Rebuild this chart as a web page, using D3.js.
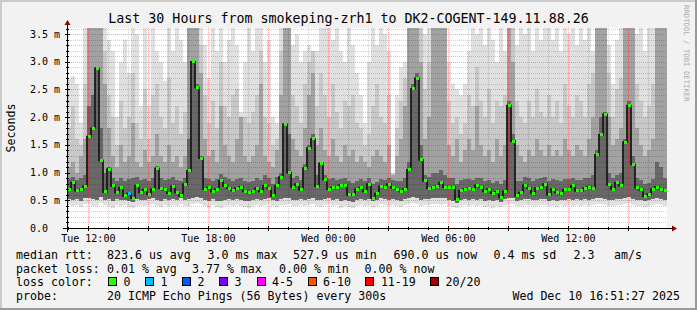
<!DOCTYPE html>
<html>
<head>
<meta charset="utf-8">
<script src="https://cdn.jsdelivr.net/npm/d3@7"></script>
<style>
  html, body { margin: 0; padding: 0; background: #f2f2f2; }
  svg { display: block; }
  text { font-family: "DejaVu Sans Mono", monospace; fill: #000; }
</style>
</head>
<body>
<svg id="chart" width="697" height="310"></svg>
<script>
// one column per 12 minutes, 150 columns over 30 hours (values in ms)
var startTime = new Date(2025, 11, 9, 10, 56),
    endTime = new Date(2025, 11, 10, 16, 56),
    stepMinutes = 12;

var median = [
  0.70,0.82,0.67,0.69,0.75,1.65,1.80,2.88,1.22,0.65,1.06,0.76,0.64,0.73,0.58,0.62,0.54,0.76,0.64,0.69,0.61,0.70,1.07,0.72,0.69,0.63,0.75,0.64,0.58,0.79,
  1.03,3.00,2.54,1.26,0.70,0.73,0.66,0.70,0.85,0.76,0.72,0.68,0.72,0.74,0.66,0.64,0.65,0.72,0.66,0.76,0.72,0.58,0.76,0.92,1.87,1.00,0.74,0.79,0.69,1.08,
  1.44,1.61,0.75,1.16,0.88,0.70,0.73,0.74,0.77,0.77,0.60,0.61,0.70,0.73,0.66,0.79,0.54,0.62,0.75,0.74,0.79,0.73,0.70,0.66,0.70,1.05,2.51,2.70,1.23,0.85,
  0.72,0.73,0.75,0.82,0.74,0.74,0.74,0.52,0.67,0.70,0.71,0.70,0.77,0.74,0.66,0.70,0.63,0.65,0.55,0.66,2.21,1.57,0.58,0.64,0.77,0.72,0.63,0.72,0.73,0.79,
  0.60,0.70,0.64,0.62,0.69,0.69,0.76,0.67,0.67,0.72,0.74,0.72,1.32,1.68,2.05,0.78,0.70,0.82,0.76,1.55,2.21,1.15,0.73,0.69,0.57,0.61,0.70,0.74,0.70,0.67
];

// smoke: lowest ping, lower quartile, upper quartile, upper band, 90th pct, highest ping
var smokeLo = [
  0.42,0.40,0.41,0.38,0.43,0.44,0.40,0.39,0.45,0.41,0.40,0.37,0.42,0.39,0.41,0.38,0.36,0.40,0.42,0.39,0.41,0.43,0.40,0.38,0.42,0.40,0.41,0.39,0.44,0.40,
  0.40,0.43,0.45,0.44,0.39,0.37,0.41,0.38,0.36,0.40,0.42,0.39,0.41,0.40,0.38,0.37,0.40,0.42,0.39,0.41,0.43,0.40,0.38,0.41,0.42,0.44,0.40,0.39,0.41,0.40,
  0.41,0.43,0.40,0.38,0.42,0.44,0.39,0.41,0.37,0.40,0.38,0.36,0.40,0.42,0.39,0.41,0.38,0.40,0.43,0.41,0.39,0.42,0.40,0.38,0.41,0.43,0.45,0.44,0.40,0.42,
  0.42,0.44,0.43,0.42,0.44,0.40,0.38,0.36,0.39,0.41,0.40,0.42,0.39,0.41,0.38,0.40,0.37,0.39,0.38,0.41,0.44,0.43,0.39,0.40,0.42,0.41,0.39,0.40,0.42,0.41,
  0.39,0.40,0.38,0.41,0.40,0.42,0.39,0.41,0.40,0.42,0.40,0.41,0.43,0.44,0.42,0.40,0.39,0.41,0.42,0.44,0.45,0.42,0.40,0.39,0.38,0.40,0.41,0.43,0.42,0.40
];
var smokeQ1 = [
  0.52,0.50,0.53,0.49,0.55,0.54,0.52,0.50,0.56,0.51,0.52,0.48,0.53,0.50,0.51,0.49,0.47,0.52,0.51,0.50,0.52,0.54,0.51,0.49,0.53,0.50,0.52,0.50,0.54,0.51,
  0.52,0.55,0.56,0.55,0.50,0.48,0.52,0.49,0.48,0.51,0.53,0.50,0.52,0.51,0.49,0.48,0.50,0.53,0.50,0.52,0.54,0.50,0.49,0.52,0.54,0.55,0.51,0.50,0.52,0.51,
  0.53,0.55,0.51,0.50,0.53,0.55,0.50,0.52,0.48,0.51,0.49,0.47,0.51,0.53,0.50,0.52,0.48,0.51,0.54,0.52,0.50,0.53,0.51,0.49,0.52,0.54,0.56,0.55,0.51,0.53,
  0.53,0.55,0.54,0.54,0.55,0.51,0.49,0.46,0.50,0.52,0.51,0.53,0.50,0.52,0.49,0.51,0.48,0.50,0.47,0.52,0.55,0.54,0.49,0.51,0.53,0.52,0.50,0.51,0.53,0.52,
  0.49,0.51,0.49,0.50,0.51,0.53,0.50,0.52,0.51,0.53,0.51,0.52,0.54,0.55,0.53,0.51,0.50,0.52,0.53,0.55,0.56,0.53,0.51,0.50,0.48,0.50,0.52,0.54,0.53,0.51
];
var smokeQ3 = [
  0.88,0.92,0.86,0.90,0.95,2.20,2.40,2.90,1.80,1.00,1.10,0.90,0.85,0.90,0.85,0.88,0.90,0.92,0.86,0.88,0.85,0.90,1.12,0.90,0.86,0.88,0.92,0.86,0.84,0.90,
  1.60,3.00,2.60,1.30,0.90,0.88,0.85,0.88,0.98,0.92,0.88,0.85,0.88,0.90,0.84,0.83,0.84,0.90,0.86,0.95,0.90,0.80,0.92,1.00,1.90,1.70,0.90,0.94,0.86,1.15,
  1.50,1.70,0.95,1.20,0.95,0.88,0.90,0.86,0.88,0.90,0.84,0.82,0.85,0.88,0.84,0.90,0.80,0.83,0.88,0.86,0.90,0.86,0.84,0.85,0.90,1.20,2.60,2.80,1.50,0.95,
  0.92,1.00,1.00,1.05,0.95,0.90,0.90,0.80,0.86,0.88,0.88,0.86,0.90,0.90,0.85,0.86,0.82,0.84,0.80,0.86,2.30,1.70,0.84,0.85,0.92,0.90,0.85,0.88,0.90,0.92,
  0.85,0.88,0.86,0.84,0.88,0.88,0.90,0.86,0.86,0.90,0.90,0.95,1.40,2.00,2.10,1.00,0.90,0.95,1.00,1.60,2.30,1.30,0.90,0.86,0.80,0.82,0.88,1.20,1.10,0.90
];
var smokeMid = [
  1.10,1.20,1.00,1.30,1.60,3.61,3.61,3.61,3.61,2.60,1.80,1.30,1.10,1.50,1.20,1.30,1.90,1.20,1.10,1.40,1.20,1.30,1.70,1.30,1.20,1.50,1.20,1.30,1.10,1.30,
  3.61,3.61,3.61,2.80,1.60,1.30,1.40,1.20,2.20,1.50,1.30,1.20,1.60,2.00,1.30,1.20,1.30,1.50,2.60,1.30,1.20,1.10,1.40,2.40,3.61,3.61,1.60,1.40,1.30,1.80,
  2.40,2.80,1.50,1.80,1.40,1.30,1.60,1.30,1.20,1.50,1.30,1.40,1.20,1.30,1.20,1.10,1.30,1.40,1.30,1.20,1.50,0.95,1.30,1.60,2.20,3.61,3.61,3.61,3.00,1.60,
  2.00,3.61,3.61,3.61,3.61,1.50,1.30,1.60,1.20,1.40,1.60,1.40,2.20,1.50,1.30,1.40,1.20,1.60,1.30,1.50,3.61,3.00,1.50,1.30,1.20,1.40,1.30,1.60,1.40,1.30,
  1.50,1.30,1.40,1.30,1.60,1.40,1.30,1.50,1.40,1.30,1.60,2.00,3.61,3.61,3.61,2.00,1.50,1.60,1.80,3.61,3.61,3.61,1.80,1.50,1.30,1.40,1.60,3.61,3.61,3.61
];
var smokeP90 = [
  1.80,2.20,1.60,1.50,2.60,3.61,3.61,3.61,3.61,3.20,2.40,2.00,1.50,2.30,1.80,2.00,2.80,1.90,1.60,2.50,1.60,2.40,2.60,2.00,1.80,2.70,1.90,2.20,1.70,2.10,
  3.61,3.61,3.61,3.30,2.40,1.90,2.30,1.80,3.00,2.20,2.00,2.40,2.50,1.80,2.00,1.90,2.10,2.40,3.20,2.00,1.90,1.50,1.60,3.20,3.61,3.61,2.40,2.20,1.90,2.60,
  3.00,3.20,2.20,2.80,2.40,2.00,2.60,2.10,1.80,2.30,2.20,2.40,1.90,1.80,1.50,1.70,2.20,2.60,2.00,1.90,2.40,0.98,1.80,2.30,2.70,3.61,3.61,3.61,3.61,2.50,
  3.00,3.61,3.61,3.61,3.61,2.30,1.90,2.00,1.70,1.90,2.40,2.20,2.90,2.30,2.00,2.50,1.90,2.30,2.20,2.40,3.61,3.61,2.30,2.00,1.90,2.30,2.00,2.50,2.10,2.00,
  2.40,2.00,2.30,1.90,2.60,2.20,2.00,2.40,2.30,2.00,2.60,2.80,3.61,3.61,3.61,2.80,2.00,2.50,2.70,3.61,3.61,3.61,2.60,2.30,2.00,2.20,2.60,3.61,3.61,3.61
];
var smokeHi = [
  2.69,2.75,2.60,1.90,3.61,3.61,3.61,3.61,3.61,3.61,3.40,3.20,2.00,3.00,3.40,2.80,3.61,3.50,2.20,3.61,2.20,3.61,3.20,3.00,2.65,3.61,3.20,3.61,3.40,3.00,
  3.61,3.61,3.61,3.61,3.30,2.70,3.61,3.20,3.61,3.00,3.40,3.61,3.30,2.10,3.00,3.61,3.20,3.61,3.61,3.00,3.40,2.00,1.90,3.61,3.61,3.61,3.30,3.50,3.00,3.20,
  3.30,3.00,3.20,3.61,3.61,3.61,3.40,3.61,3.20,3.00,3.61,3.30,2.80,2.40,1.90,3.00,3.61,3.30,3.61,3.50,3.20,1.00,2.40,2.90,3.00,3.61,3.61,3.61,3.61,3.50,
  3.61,3.61,3.61,3.61,3.61,3.00,2.60,2.50,2.40,2.60,3.20,3.61,3.50,3.61,3.30,3.61,3.40,3.00,3.61,3.20,3.61,3.61,3.30,3.61,3.50,3.61,3.20,3.61,3.40,3.61,
  3.61,3.40,3.61,3.20,3.61,3.50,3.61,3.30,3.61,3.40,3.61,3.20,3.61,3.61,3.61,3.30,2.60,3.40,3.61,3.61,3.61,3.61,3.50,3.61,3.20,3.61,3.61,3.61,3.61,3.61
];

// columns with lost pings: [column, lost count]
var lossPoints = [[15, 1]];

var lossLabels = ['0', '1', '2', '3', '4-5', '6-10', '11-19', '20/20'],
    lossColors = ['#26ff00', '#00b8ff', '#0059ff', '#7e00ff', '#ff00ff', '#ff5500', '#ff0000', '#a00000'];

var yMax = 3.61,
    yMajorStep = 0.5,
    yMinorStep = 0.1;

var title = 'Last 30 Hours from smokeping-zrh1 to DK2-COGENT-149.11.88.26',
    statsRtt = ['median rtt:', '823.6 us avg', '3.0 ms max', '527.9 us min', '690.0 us now', '0.4 ms sd', '2.3', 'am/s'],
    statsLoss = ['packet loss:', '0.01 % avg', '3.77 % max', '0.00 % min', '0.00 % now'],
    probeInfo = ['probe:', '20 ICMP Echo Pings (56 Bytes) every 300s'],
    stamp = 'Wed Dec 10 16:51:27 2025';

var svg = d3.select('#chart'),
    W = 697, H = 310,
    plot = {left: 67, right: 667, top: 28, bottom: 228};

var x = d3.scaleTime().domain([startTime, endTime]).range([plot.left, plot.right]),
    y = d3.scaleLinear().domain([0, yMax]).range([plot.bottom, plot.top]),
    colTime = i => d3.timeMinute.offset(startTime, i * stepMinutes),
    colX = i => x(colTime(i)),
    colW = i => x(colTime(i + 1)) - x(colTime(i));

function drawFrame() {
  svg.append('rect').attr('width', W).attr('height', H).attr('fill', '#f2f2f2');
  // 3d shade border
  svg.append('rect').attr('x', 0).attr('y', 0).attr('width', W).attr('height', 2).attr('fill', '#cbcbcb');
  svg.append('rect').attr('x', 0).attr('y', 0).attr('width', 2).attr('height', H).attr('fill', '#cbcbcb');
  svg.append('rect').attr('x', W - 2).attr('y', 0).attr('width', 2).attr('height', H).attr('fill', '#999');
  svg.append('rect').attr('x', 0).attr('y', H - 2).attr('width', W).attr('height', 2).attr('fill', '#999');
  // canvas
  svg.append('rect')
    .attr('x', plot.left).attr('y', plot.top)
    .attr('width', plot.right - plot.left).attr('height', plot.bottom - plot.top)
    .attr('fill', '#fff');
}

function drawSmoke() {
  var g = svg.append('g').attr('shape-rendering', 'crispEdges'),
      layers = [
        {lo: smokeLo, hi: smokeHi, color: '#e0e0e0'},
        {lo: smokeQ1, hi: smokeP90, color: '#c8c8c8'},
        {lo: smokeQ1, hi: smokeMid, color: '#a2a2a2'},
        {lo: smokeQ1, hi: smokeQ3, color: '#686868'}
      ];
  layers.forEach(function (layer) {
    g.append('g').selectAll('rect')
      .data(median)
      .join('rect')
        .attr('x', (d, i) => colX(i))
        .attr('width', (d, i) => colW(i))
        .attr('y', (d, i) => y(layer.hi[i]))
        .attr('height', (d, i) => Math.max(0, y(layer.lo[i]) - y(layer.hi[i])))
        .attr('fill', layer.color);
  });
}

function drawGrid() {
  var g = svg.append('g').attr('shape-rendering', 'crispEdges'),
      hours = d3.timeHour.range(d3.timeHour.ceil(startTime), endTime),
      yTicks = d3.range(0, Math.floor(yMax / yMinorStep) + 1).map(i => i * yMinorStep);
  // vertical: hourly gray, every 3 hours red
  g.selectAll('line.vgrid')
    .data(hours)
    .join('line')
      .attr('x1', d => Math.round(x(d)) + 0.5).attr('x2', d => Math.round(x(d)) + 0.5)
      .attr('y1', plot.top).attr('y2', plot.bottom)
      .attr('stroke', d => d.getHours() % 3 === 0 ? 'rgba(255,0,0,0.35)' : 'rgba(0,0,0,0.18)')
      .attr('stroke-dasharray', '1,1');
  // horizontal: 0.1 ms gray, 0.5 ms red
  g.selectAll('line.hgrid')
    .data(yTicks.slice(1))
    .join('line')
      .attr('x1', plot.left).attr('x2', plot.right)
      .attr('y1', d => Math.round(y(d)) + 0.5).attr('y2', d => Math.round(y(d)) + 0.5)
      .attr('stroke', (d, i) => (i + 1) % 5 === 0 ? 'rgba(255,0,0,0.35)' : 'rgba(0,0,0,0.18)')
      .attr('stroke-dasharray', '1,1');
}

function drawMedian() {
  var pts = median.map((d, i) => [colX(i) + colW(i) / 2, y(d)]),
      lossAt = new Map(lossPoints);
  svg.append('path')
    .attr('d', d3.line().curve(d3.curveStep)(pts))
    .attr('fill', 'none')
    .attr('stroke', '#1a1a1a')
    .attr('stroke-width', 1.8);
  svg.append('g').attr('shape-rendering', 'crispEdges')
    .selectAll('rect')
    .data(pts)
    .join('rect')
      .attr('x', d => Math.round(d[0] - 1.5))
      .attr('y', d => Math.round(d[1] - 1.5))
      .attr('width', 3).attr('height', 3)
      .attr('fill', (d, i) => lossColors[lossAt.get(i) || 0]);
}

function drawAxes() {
  var g = svg.append('g').attr('shape-rendering', 'crispEdges'),
      hours = d3.timeHour.range(d3.timeHour.ceil(startTime), endTime),
      fmt = d3.timeFormat('%a %H:%M'),
      yTicks = d3.range(0, Math.floor(yMax / yMinorStep) + 1).map(i => i * yMinorStep);
  // axis lines
  g.append('line').attr('x1', plot.left - 4).attr('x2', plot.right + 5)
    .attr('y1', plot.bottom + 0.5).attr('y2', plot.bottom + 0.5).attr('stroke', '#000');
  g.append('line').attr('x1', plot.left + 0.5).attr('x2', plot.left + 0.5)
    .attr('y1', plot.bottom + 4).attr('y2', plot.top - 4).attr('stroke', '#000');
  // arrows
  svg.append('path')
    .attr('d', `M${plot.right + 5},${plot.bottom - 2.5}L${plot.right + 10},${plot.bottom + 0.5}L${plot.right + 5},${plot.bottom + 3.5}Z`)
    .attr('fill', '#8b0000');
  svg.append('path')
    .attr('d', `M${plot.left - 2.5},${plot.top - 3}L${plot.left + 0.5},${plot.top - 8}L${plot.left + 3.5},${plot.top - 3}Z`)
    .attr('fill', '#8b0000');
  // x ticks
  g.selectAll('line.xt')
    .data(hours)
    .join('line')
      .attr('x1', d => Math.round(x(d)) + 0.5).attr('x2', d => Math.round(x(d)) + 0.5)
      .attr('y1', d => plot.bottom - (d.getHours() % 3 === 0 ? 2 : 1))
      .attr('y2', d => plot.bottom + (d.getHours() % 3 === 0 ? 3 : 2))
      .attr('stroke', '#000');
  // y ticks
  g.selectAll('line.yt')
    .data(yTicks.slice(1))
    .join('line')
      .attr('x1', (d, i) => plot.left - ((i + 1) % 5 === 0 ? 2 : 1))
      .attr('x2', (d, i) => plot.left + ((i + 1) % 5 === 0 ? 3 : 2))
      .attr('y1', d => Math.round(y(d)) + 0.5).attr('y2', d => Math.round(y(d)) + 0.5)
      .attr('stroke', '#000');
  // labels
  svg.append('g').selectAll('text')
    .data(hours.filter(d => d.getHours() % 6 === 0))
    .join('text')
      .attr('x', d => x(d)).attr('y', plot.bottom + 14)
      .attr('text-anchor', 'middle')
      .attr('font-size', '10px')
      .text(d => fmt(d));
  svg.append('g').selectAll('text')
    .data(d3.range(0, 8).map(i => i * yMajorStep))
    .join('text')
      .attr('x', 30).attr('y', d => y(d) + 3.5)
      .attr('font-size', '10px')
      .text(d => d === 0 ? '0.0' : `${d.toFixed(1)} m`);
  svg.append('text')
    .attr('transform', `translate(15, ${(plot.top + plot.bottom) / 2}) rotate(-90)`)
    .attr('text-anchor', 'middle')
    .attr('font-size', '11.6px')
    .text('Seconds');
}

function drawText() {
  var fs = '11.6px',
      rows = [259, 272.5, 286, 300];
  svg.append('text')
    .attr('x', W / 2).attr('y', 23)
    .attr('text-anchor', 'middle')
    .attr('font-size', '13.3px')
    .text(title);
  svg.append('text')
    .attr('transform', 'translate(683.5, 5) rotate(90)')
    .attr('font-size', '7.3px')
    .style('fill', '#ababab')
    .text('RRDTOOL / TOBI OETIKER');

  var rttX = [16, 107, 207.6, 293, 393.5, 493.5, 573.6, 614],
      lossX = [16, 107, 192, 279, 364.6];
  statsRtt.forEach((t, i) => svg.append('text').attr('x', rttX[i]).attr('y', rows[0]).attr('font-size', fs).text(t));
  statsLoss.forEach((t, i) => svg.append('text').attr('x', lossX[i]).attr('y', rows[1]).attr('font-size', fs).text(t));
  svg.append('text').attr('x', 16).attr('y', rows[2]).attr('font-size', fs).text('loss color:');

  // loss color swatches
  var boxX = [108, 145, 182, 219, 256.5, 307.6, 365.4, 430];
  lossLabels.forEach(function (label, i) {
    svg.append('rect')
      .attr('x', Math.round(boxX[i]) + 0.5).attr('y', rows[2] - 8.5)
      .attr('width', 8).attr('height', 8)
      .attr('fill', lossColors[i])
      .attr('stroke', '#000')
      .attr('shape-rendering', 'crispEdges');
    svg.append('text')
      .attr('x', boxX[i] + 15.5).attr('y', rows[2])
      .attr('font-size', fs)
      .text(label);
  });

  svg.append('text').attr('x', 16).attr('y', rows[3]).attr('font-size', fs).text(probeInfo[0]);
  svg.append('text').attr('x', 107).attr('y', rows[3]).attr('font-size', fs).text(probeInfo[1]);
  svg.append('text').attr('x', 680).attr('y', rows[3]).attr('text-anchor', 'end').attr('font-size', fs).text(stamp);
}

drawFrame();
drawSmoke();
drawGrid();
drawMedian();
drawAxes();
drawText();
</script>
</body>
</html>
